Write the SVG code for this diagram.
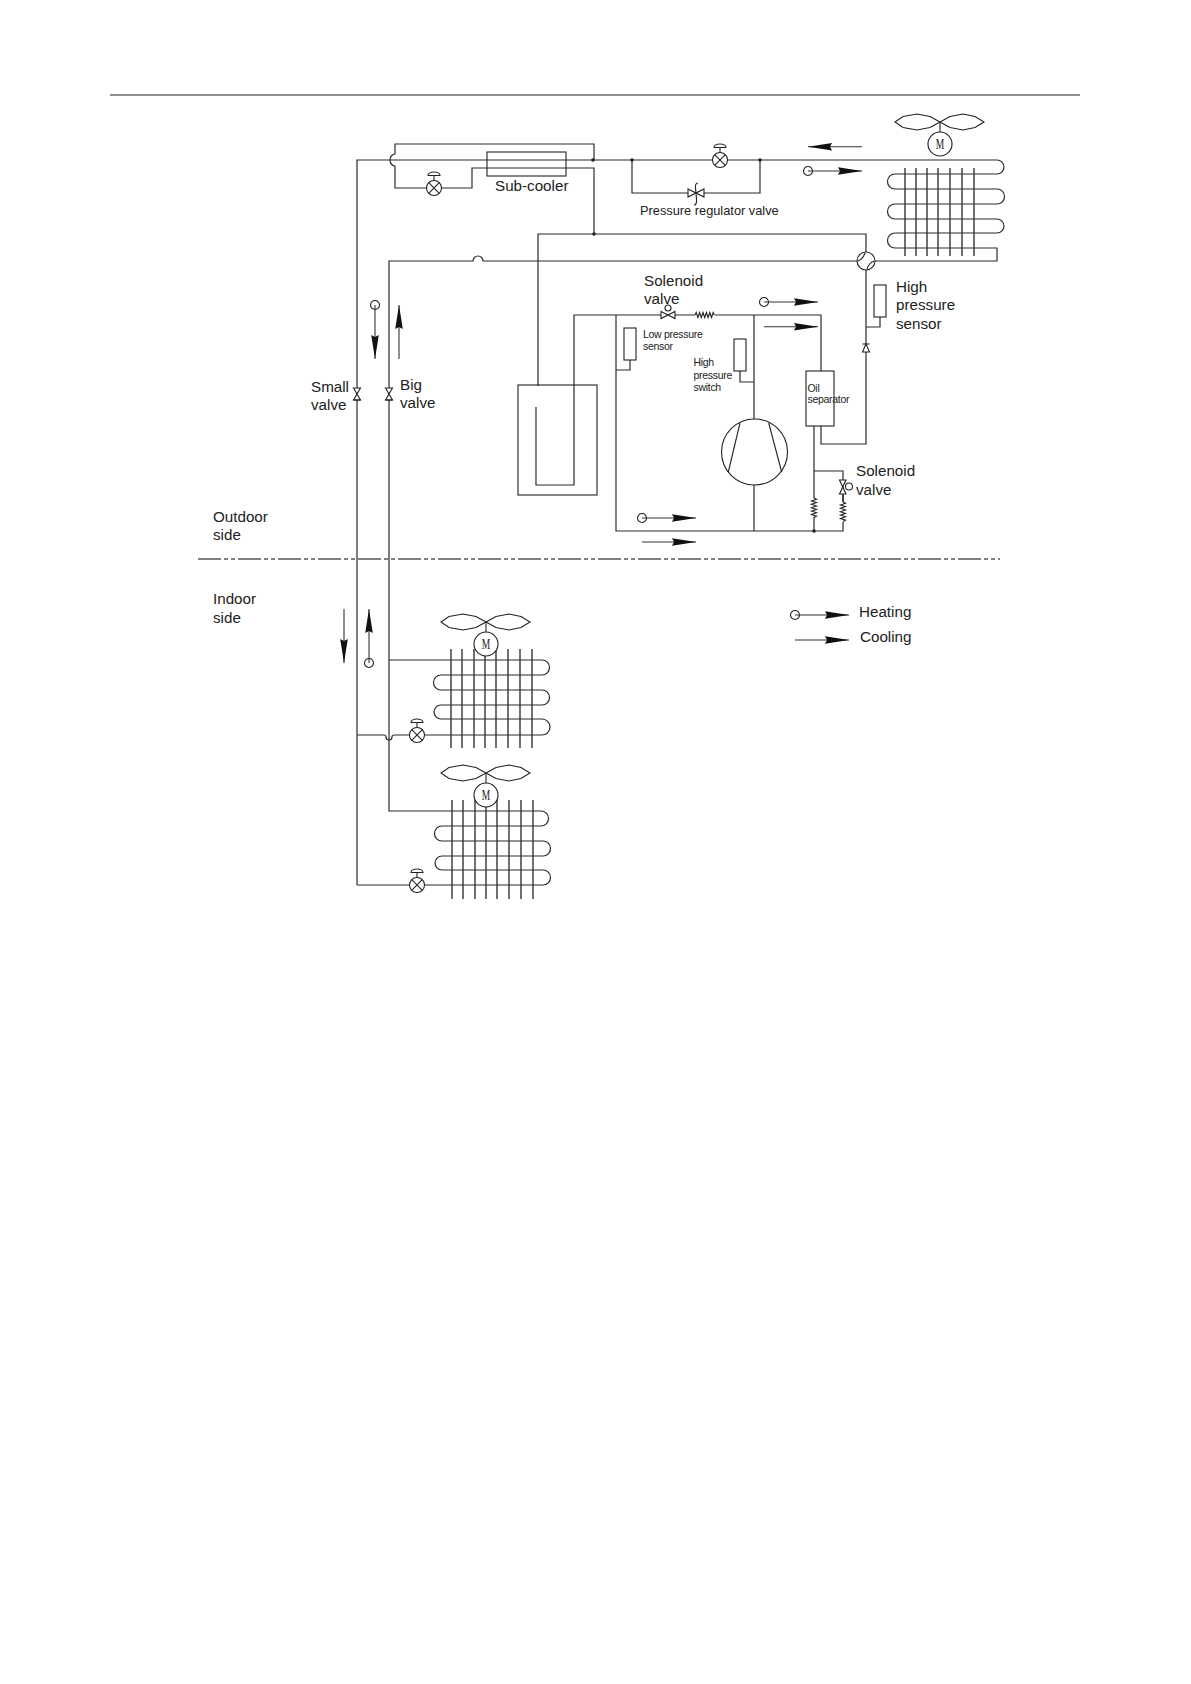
<svg xmlns="http://www.w3.org/2000/svg" xmlns:xlink="http://www.w3.org/1999/xlink" width="1191" height="1684" viewBox="0 0 1191 1684">
<style>
text{font-family:"Liberation Sans",Arial,sans-serif;fill:#222}
.t15{font-size:15.2px}.t13{font-size:12.8px}.t10{font-size:10.5px;letter-spacing:-.3px}
.l{fill:none;stroke:#2a2a2a;stroke-width:1.2}
.thin{fill:none;stroke:#333;stroke-width:1.1}
.n{fill:#fff;stroke:#222;stroke-width:1.1}
.o{fill:none;stroke:#222;stroke-width:1.1}
.h{fill:#111;stroke:none}
.fin{stroke:#333;stroke-width:1.4}
.m{font-family:"Liberation Serif",serif;font-size:14px;text-anchor:middle}
</style>
<defs>
<g id="cool"><line class="thin" x1="0" y1="0" x2="54" y2="0"/><polygon class="h" points="30,-3.800 54,0 30,3.800 32,0"/></g>
<g id="heat"><circle class="n" cx="0" cy="0" r="4.5"/><line class="thin" x1="0" y1="0" x2="54" y2="0"/><polygon class="h" points="30,-3.800 54,0 30,3.800 32,0"/></g>
<g id="expv"><line class="o" x1="0" y1="-7.5" x2="0" y2="-12.5"/><path class="n" d="M-6,-12.5 A6,3.5 0 0 1 6,-12.5 Z"/><circle class="n" r="7.5"/><path class="o" d="M-5.3,-5.3 L5.3,5.3 M-5.3,5.3 L5.3,-5.3"/></g>
<g id="stop"><path class="n" d="M-3.500,-6 L3.500,-6 L-3.500,6 L3.500,6 Z"/><line class="o" x1="-3.5" y1="6" x2="3.5" y2="6"/></g>
<path id="zig" class="o" d="M0,0 l1.2,-2.5 l1.7,5 l1.700,-5 l1.700,5 l1.700,-5 l1.700,5 l1.700,-5 l1.700,5 l1.700,-5 l1.700,5 l1.700,-5 l1.200,2.500"/>
<g id="fan">
<path class="o" d="M0,0 L-10,5.5 L-23,8 L-37,5.5 L-45,0 L-37,-5.5 L-23,-8 L-10,-5.5 Z M0,0 L10,5.5 L23,8 L35,5.5 L44,0 L35,-5.5 L23,-8 L10,-5.5 Z"/>
<line class="o" x1="0" y1="0" x2="0" y2="10"/>
<circle class="n" cx="0" cy="22" r="12"/>
<text class="m" transform="translate(0,27) scale(.68,1)">M</text>
</g>
</defs>

<line id="header-rule" x1="110" y1="95" x2="1080" y2="95" stroke="#222" stroke-width="1.1"/>
<line id="divider" x1="198" y1="559" x2="1000" y2="559" stroke="#555" stroke-width="1.3" stroke-dasharray="23 3 4 3 4 3"/>

<g id="connectors">
<path class="l" d="M357,885 V160 H997 A7,7 0 0 1 997,174 H895 A7.5,7.5 0 0 0 895,189 H997 A7.5,7.5 0 0 1 997,204 H895 A7.5,7.5 0 0 0 895,219 H997 A7,7 0 0 1 997,233 H895 A7.5,7.5 0 0 0 895,248 H997 V261 H875"/>
<path class="l" d="M594,160 V144 H395 V154 A5,6 0 0 0 395,166 V188 H472 V168 H594 V234"/>
<path class="l" d="M632,160 V193 H760 V160"/>
<path class="l" d="M866,252 V234 H538 V386"/>
<path class="l" d="M857,261 H483 A5,5 0 0 0 473,261 H389 V811 H541 A7.5,7.5 0 0 1 541,826 H442 A7.5,7.5 0 0 0 442,841 H543 A7.5,7.5 0 0 1 543,856 H442 A7,7 0 0 0 442,870 H543 A7.5,7.5 0 0 1 543,885 H357"/>
<path class="l" d="M389,660 H542 A7.5,7.5 0 0 1 542,675 H441 A7.5,7.5 0 0 0 441,690 H542 A7.5,7.5 0 0 1 542,705 H441 A7,7 0 0 0 441,719 H542 A8,8 0 0 1 542,735 H394 Q392,735 392,737 A3,3 0 0 1 386,737 Q386,735 384,735 H357"/>
<path class="l" d="M536,407 V485 H574 V315 H695 M715,315 H821 V371"/>
<path class="l" d="M616,315 V531 H843 V522 M843,502 V471 H814 V498 M814,517 V531"/>
<path class="l" d="M814,426 V471"/>
<path class="l" d="M754,315 V419 M754,485 V531"/>
<path class="l" d="M821,426 V444 H866 V270"/>
<path class="l" d="M880,317 V327 H866"/>
<path class="l" d="M630,360 V370 H616"/>
<path class="l" d="M740,371 V382 H754"/>
<circle cx="593" cy="160" r="1.8" fill="#222"/>
<circle cx="632" cy="160" r="1.8" fill="#222"/>
<circle cx="760" cy="160" r="1.8" fill="#222"/>
<circle cx="594" cy="234" r="1.8" fill="#222"/>
<circle cx="814" cy="531" r="1.8" fill="#222"/>
</g>

<g id="subcooler"><rect class="o" x="487" y="152" width="79" height="24"/><text class="t15" x="495" y="191">Sub-cooler</text></g>
<use id="exp-valve-subcooler" xlink:href="#expv" href="#expv" x="434" y="188"/>
<use id="exp-valve-outdoor" xlink:href="#expv" href="#expv" x="720" y="160"/>
<g id="regulator-valve">
<path class="n" d="M688,189 L704,197 L704,189 L688,197 Z"/>
<path class="o" d="M698,183 Q695,183 695.500,188 L696.500,199 Q697,205 694,205"/>
<text class="t13" x="640" y="215">Pressure regulator valve</text>
</g>
<g id="outdoor-coil">
<g class="fin"><line x1="905" y1="168" x2="905" y2="256"/><line x1="916" y1="168" x2="916" y2="256"/><line x1="927" y1="168" x2="927" y2="256"/><line x1="938" y1="168" x2="938" y2="256"/><line x1="950" y1="168" x2="950" y2="256"/><line x1="962" y1="168" x2="962" y2="256"/><line x1="974" y1="168" x2="974" y2="256"/></g>
<use xlink:href="#fan" href="#fan" x="940" y="122"/>
</g>
<g id="four-way-valve"><circle class="n" cx="866" cy="261" r="9"/><path class="o" d="M858,261 Q863,259 865,253 M867,269 Q869,263 874,261"/></g>
<g id="high-pressure-sensor"><rect class="n" x="874" y="285" width="12" height="32"/><text class="t15" x="896" y="292">High</text><text class="t15" x="896" y="310">pressure</text><text class="t15" x="896" y="329">sensor</text></g>
<g id="check-valve"><path class="n" d="M866,344 L862.500,352 H869.500 Z"/><line class="o" x1="862.500" y1="344" x2="869.500" y2="344"/></g>
<g id="accumulator"><rect class="o" x="518" y="385" width="79" height="110"/></g>
<g id="solenoid-valve-top">
<path class="n" d="M661,311.500 L675,318.500 L675,311.500 L661,318.500 Z"/>
<circle class="n" cx="668" cy="308" r="3"/>
<use xlink:href="#zig" href="#zig" x="695" y="315"/>
<text class="t15" x="644" y="286">Solenoid</text><text class="t15" x="644" y="304">valve</text>
</g>
<g id="low-pressure-sensor"><rect class="n" x="624" y="328" width="12" height="32"/><text class="t10" x="643" y="338">Low pressure</text><text class="t10" x="643" y="350">sensor</text></g>
<g id="high-pressure-switch"><rect class="n" x="734" y="339" width="12" height="32"/><text class="t10" x="693.500" y="366">High</text><text class="t10" x="693.500" y="379">pressure</text><text class="t10" x="693.500" y="391">switch</text></g>
<g id="compressor"><circle class="n" cx="754.500" cy="452" r="33"/><path class="o" d="M740,423 L728.300,472 M768.700,423 L781.700,472"/></g>
<g id="oil-separator"><rect class="n" x="806" y="371" width="28" height="55"/><text class="t10" x="807.500" y="392">Oil</text><text class="t10" x="807.500" y="403">separator</text></g>
<g id="solenoid-valve-bottom">
<path class="n" d="M839.500,480 L846,480 L839.500,494 L846,494 Z"/>
<line class="o" x1="843" y1="494" x2="843" y2="502"/>
<circle class="n" cx="849" cy="486.500" r="3.500"/>
<use xlink:href="#zig" href="#zig" transform="translate(843,502) rotate(90)"/>
<use xlink:href="#zig" href="#zig" transform="translate(814,498) rotate(90)"/>
<text class="t15" x="856" y="476">Solenoid</text><text class="t15" x="856" y="495">valve</text>
</g>
<g id="small-valve"><use xlink:href="#stop" href="#stop" x="357" y="394"/><text class="t15" x="311" y="392">Small</text><text class="t15" x="311" y="410">valve</text></g>
<g id="big-valve"><use xlink:href="#stop" href="#stop" x="389" y="394"/><text class="t15" x="400" y="390">Big</text><text class="t15" x="400" y="408">valve</text></g>
<g id="zone-labels"><text class="t15" x="213" y="522">Outdoor</text><text class="t15" x="213" y="540">side</text><text class="t15" x="213" y="604">Indoor</text><text class="t15" x="213" y="623">side</text></g>
<g id="indoor-unit-1">
<use xlink:href="#expv" href="#expv" x="417" y="735"/>
<g class="fin"><line x1="451" y1="649" x2="451" y2="748"/><line x1="462" y1="649" x2="462" y2="748"/><line x1="474" y1="649" x2="474" y2="748"/><line x1="485" y1="649" x2="485" y2="748"/><line x1="496" y1="649" x2="496" y2="748"/><line x1="508" y1="649" x2="508" y2="748"/><line x1="520" y1="649" x2="520" y2="748"/><line x1="532" y1="649" x2="532" y2="748"/></g>
<use xlink:href="#fan" href="#fan" x="486" y="622"/>
</g>
<g id="indoor-unit-2">
<use xlink:href="#expv" href="#expv" x="417" y="885"/>
<g class="fin"><line x1="452" y1="800" x2="452" y2="899"/><line x1="463" y1="800" x2="463" y2="899"/><line x1="475" y1="800" x2="475" y2="899"/><line x1="486" y1="800" x2="486" y2="899"/><line x1="497" y1="800" x2="497" y2="899"/><line x1="509" y1="800" x2="509" y2="899"/><line x1="521" y1="800" x2="521" y2="899"/><line x1="533" y1="800" x2="533" y2="899"/></g>
<use xlink:href="#fan" href="#fan" x="486" y="773"/>
</g>
<g id="flow-arrows">
<use xlink:href="#cool" href="#cool" transform="translate(862,146.700) rotate(180)"/>
<use xlink:href="#heat" href="#heat" x="808" y="171"/>
<use xlink:href="#heat" href="#heat" x="764" y="302"/>
<use xlink:href="#cool" href="#cool" x="764" y="326.700"/>
<use xlink:href="#heat" href="#heat" x="642" y="518"/>
<use xlink:href="#cool" href="#cool" x="642" y="542"/>
<use xlink:href="#heat" href="#heat" transform="translate(375,305) rotate(90)"/>
<use xlink:href="#cool" href="#cool" transform="translate(399,359) rotate(-90)"/>
<use xlink:href="#cool" href="#cool" transform="translate(344,609) rotate(90)"/>
<use xlink:href="#heat" href="#heat" transform="translate(369,663) rotate(-90)"/>
</g>
<g id="legend">
<use xlink:href="#heat" href="#heat" x="795" y="615"/>
<use xlink:href="#cool" href="#cool" x="795" y="640"/>
<text class="t15" x="859" y="617">Heating</text><text class="t15" x="860" y="642">Cooling</text>
</g>
</svg>
